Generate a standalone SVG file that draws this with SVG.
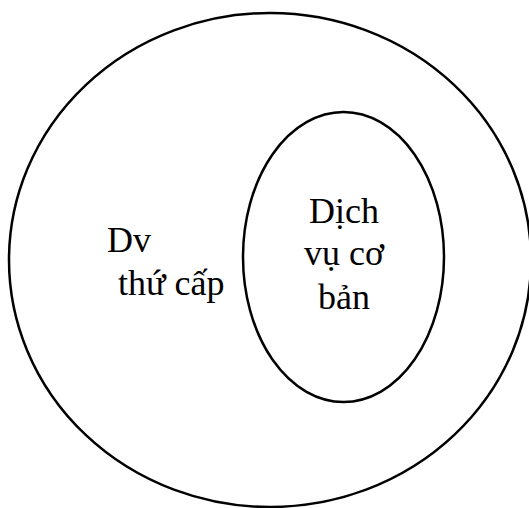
<svg xmlns="http://www.w3.org/2000/svg" width="529" height="508" viewBox="0 0 529 508">
<style>
.e{fill:none;stroke:#000;stroke-width:2.5}
.t{font-family:"Liberation Serif","Times New Roman",serif;font-size:36px;fill:#000}
</style>
<rect width="529" height="508" fill="#fff"/>
<g id="outer">
<ellipse class="e" cx="270" cy="260" rx="261" ry="247"/>
<text class="t" x="107" y="252">Dv</text>
<text class="t" x="118" y="295">thứ cấp</text>
</g>
<g id="inner">
<ellipse class="e" cx="343.5" cy="257" rx="100.5" ry="145"/>
<text class="t" x="344" y="223" text-anchor="middle">Dịch</text>
<text class="t" x="344" y="265" text-anchor="middle">vụ cơ</text>
<text class="t" x="344" y="309" text-anchor="middle">bản</text>
</g>
<g id="connectors"></g>
</svg>
